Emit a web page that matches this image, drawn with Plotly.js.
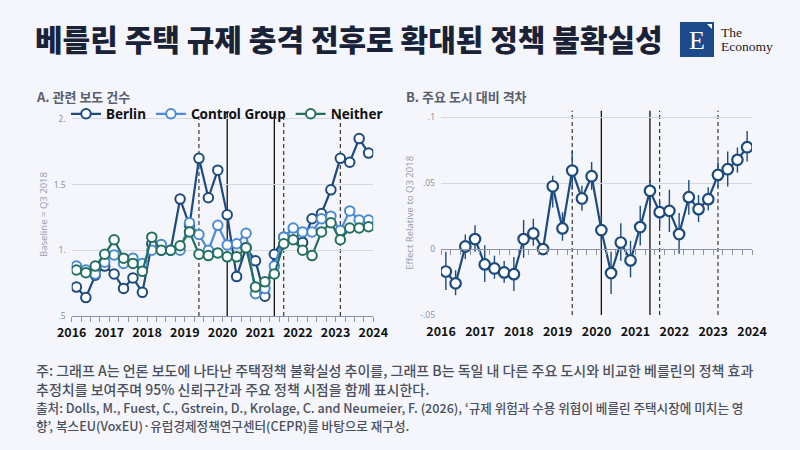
<!DOCTYPE html>
<html>
<head>
<meta charset="utf-8">
<script src="https://cdn.plot.ly/plotly-3.0.1.min.js"></script>
<style>
  html, body { margin: 0; padding: 0; background: #f5f6fb; }
  #chart { width: 800px; height: 450px; }
</style>
</head>
<body>
<div id="chart"></div>
<script>
// ---------- DATA ----------
const quarterLabels = [];
for (let y = 2016; y <= 2023; y++) { for (let q = 1; q <= 4; q++) quarterLabels.push(y + 'Q' + q); }

// Panel A: news coverage index (baseline = Q3 2018)
const berlin  = [0.72, 0.64, 0.81, 0.88, 0.82, 0.71, 0.79, 0.68, 1.05, 1.00, 1.00, 1.39, 1.19, 1.70, 1.40, 1.61,
                 1.27, 0.80, 1.02, 0.92, 0.65, 0.97, 1.10, 1.12, 1.06, 1.24, 1.28, 1.46, 1.70, 1.67, 1.85, 1.74];
const control = [0.88, 0.85, 0.82, 0.91, 0.965, 0.90, 0.94, 0.90, 1.00, 1.045, 1.00, 1.00, 1.21, 1.12, 1.00, 1.19,
                 1.04, 1.05, 1.13, 0.67, 0.71, 0.88, 1.10, 1.17, 1.14, 1.14, 1.24, 1.26, 1.15, 1.30, 1.23, 1.23];
const neither = [0.85, 0.83, 0.88, 0.97, 1.08, 0.94, 0.90, 0.84, 1.10, 1.00, 1.00, 1.035, 1.14, 0.97, 0.96, 0.98,
                 0.95, 0.95, 1.02, 0.72, 0.76, 0.82, 1.05, 1.08, 1.00, 0.96, 1.14, 1.21, 1.08, 1.17, 1.17, 1.18];

// Panel B: effect relative to Q3 2018 with 95% CI
const effect  = [-0.017, -0.026, 0.002, 0.0076, -0.0116, -0.0147, -0.0177, -0.019, 0.0076, 0.0119, 0, 0.0477, 0.0157, 0.0596, 0.0384, 0.0553,
                 0.0144, -0.0182, 0.005, -0.0086, 0.0167, 0.0442, 0.028, 0.029, 0.0114, 0.0394, 0.0303, 0.0379, 0.0563, 0.0606, 0.0677, 0.0773];
const ciUpper = [-0.002, -0.016, 0.011, 0.018, 0.003, -0.005, -0.009, -0.006, 0.022, 0.023, 0, 0.0556, 0.028, 0.0745, 0.048, 0.066,
                 0.025, -0.002, 0.0197, 0.0063, 0.0328, 0.0525, 0.0364, 0.045, 0.0273, 0.0525, 0.041, 0.047, 0.0664, 0.074, 0.077, 0.0896];
const ciLower = [-0.031, -0.035, -0.0076, -0.002, -0.025, -0.0225, -0.0255, -0.0318, -0.0066, 0.0025, 0, 0.0316, 0.0063, 0.045, 0.029, 0.045,
                 0.0045, -0.034, -0.0088, -0.0215, 0.0028, 0.0323, 0.0164, 0.0129, -0.0035, 0.026, 0.0205, 0.0293, 0.047, 0.0475, 0.058, 0.0664];

// Policy event quarters and their kind
const eventQuarters = ['2019Q2', '2020Q1', '2021Q2', '2021Q3', '2023Q1'];
const eventKinds    = ['announce', 'enact', 'enact', 'announce', 'announce'];

const yearTicks = [2016, 2017, 2018, 2019, 2020, 2021, 2022, 2023, 2024];
const leftTickVals = [0.5, 1, 1.5, 2];
const leftTickText = ['.5', '1.', '1.5', '2.'];
const rightTickVals = [-0.05, 0, 0.05, 0.1];
const rightTickText = ['-.05', '0', '.05', '.1'];

// ---------- HELPERS ----------
function qToX(label) {
  const y = parseInt(label.slice(0, 4), 10);
  const q = parseInt(label.slice(5), 10);
  return y + (q - 0.5) / 4;
}
const xq = quarterLabels.map(qToX);

const C_BERLIN = '#1d4b7e', C_CONTROL = '#4b8ad4', C_NEITHER = '#23705f';
const BG = '#f5f6fb';
const KR = '"Noto Sans CJK KR", "Noto Sans", sans-serif';
const SANS = '"Noto Sans", "Open Sans", sans-serif';

function lineTrace(name, ys, color, xa, ya, showleg) {
  return {
    type: 'scatter', mode: 'lines+markers', name: name, x: xq, y: ys,
    xaxis: xa, yaxis: ya, showlegend: showleg,
    line: { color: color, width: 2.2 },
    marker: { symbol: 'circle', size: 9.5, color: '#ffffff', line: { color: color, width: 2 } },
    hoverinfo: 'skip'
  };
}

const traces = [
  lineTrace('Berlin', berlin, C_BERLIN, 'x', 'y', true),
  lineTrace('Control Group', control, C_CONTROL, 'x', 'y', true),
  lineTrace('Neither', neither, C_NEITHER, 'x', 'y', true),
  Object.assign(lineTrace('Effect', effect, C_BERLIN, 'x2', 'y2', false), {
    marker: { symbol: 'circle', size: 10.5, color: '#ffffff', line: { color: C_BERLIN, width: 2.2 } },
    error_y: {
      type: 'data', symmetric: false,
      array: ciUpper.map((u, i) => u - effect[i]),
      arrayminus: ciLower.map((l, i) => effect[i] - l),
      color: C_BERLIN, thickness: 1.4, width: 0
    }
  }),
  // carrier for the zero-line axis of panel B
  { type: 'scatter', mode: 'markers', x: [], y: [], xaxis: 'x3', yaxis: 'y2', showlegend: false, hoverinfo: 'skip' }
];

// ---------- SHAPES ----------
const shapes = [];
eventQuarters.forEach((q, i) => {
  const enact = eventKinds[i] === 'enact';
  [['x', 'y domain'], ['x2', 'y2 domain']].forEach(([xr, yr]) => {
    shapes.push({ type: 'line', xref: xr, yref: yr, x0: qToX(q), x1: qToX(q), y0: 0, y1: 1,
      line: { color: '#111111', width: enact ? 1.3 : 1, dash: enact ? 'solid' : '4px,3px' }, layer: 'below' });
  });
});
// logo box
shapes.push({ type: 'rect', xref: 'paper', yref: 'paper', x0: 680/800, x1: 714/800, y0: 1 - 57/450, y1: 1 - 22/450,
  fillcolor: '#1d4a8a', line: { width: 0 }, layer: 'above' });
shapes.push({ type: 'path', xref: 'paper', yref: 'paper',
  path: `M ${707/800} ${1-24/450} L ${712/800} ${1-24/450} L ${712/800} ${1-29/450} Z`,
  fillcolor: '#ffffff', line: { width: 0 }, layer: 'above' });

// ---------- ANNOTATIONS ----------
function ann(text, x, y, size, color, weight, opts) {
  return Object.assign({ text: text, xref: 'paper', yref: 'paper', x: x / 800, y: 1 - y / 450,
    xanchor: 'left', yanchor: 'middle', showarrow: false,
    font: { family: KR, size: size, color: color, weight: weight } }, opts || {});
}
const SERIF = '"Liberation Serif", "DejaVu Serif", serif';
const annotations = [
  ann('베를린 주택 규제 충격 전후로 확대된 정책 불확실성', 33, 38, 30, '#1a2238', 900),
  ann('A. 관련 보도 건수', 34, 97, 13, '#5a5f6e', 700),
  ann('B. 주요 도시 대비 격차', 404, 97, 13, '#5a5f6e', 700),
  ann('주: 그래프 A는 언론 보도에 나타난 주택정책 불확실성 추이를, 그래프 B는 독일 내 다른 주요 도시와 비교한 베를린의 정책 효과', 34, 370, 14, '#4a4f5c', 500),
  ann('추정치를 보여주며 95% 신뢰구간과 주요 정책 시점을 함께 표시한다.', 34, 389, 14, '#4a4f5c', 500),
  ann('출처: Dolls, M., Fuest, C., Gstrein, D., Krolage, C. and Neumeier, F. (2026), ‘규제 위험과 수용 위협이 베를린 주택시장에 미치는 영', 34, 407.5, 12.6, '#4a4f5c', 500),
  ann('향’, 복스EU(VoxEU)·유럽경제정책연구센터(CEPR)를 바탕으로 재구성.', 34, 425, 12.6, '#4a4f5c', 500),
  ann('E', 697, 40, 26, '#ffffff', 400, { xanchor: 'center', font: { family: SERIF, size: 26, color: '#ffffff' } }),
  ann('The', 719, 32, 13, '#1a1a1a', 400, { font: { family: SERIF, size: 13.5, color: '#1a1a1a' } }),
  ann('Economy', 719, 46, 13, '#1a1a1a', 400, { font: { family: SERIF, size: 13.5, color: '#1a1a1a' } })
];

// ---------- AXES ----------
const AX = '#8a93a8';
const yearFont = { family: KR, size: 12.5, color: '#111111', weight: 700 };
function xAxis(domain, anchor, showline) {
  return {
    domain: domain, anchor: anchor, range: [2016, 2024], tickvals: yearTicks, ticktext: yearTicks.map(String),
    showline: showline, linecolor: AX, linewidth: 1,
    ticks: 'outside', ticklen: 5, tickcolor: showline ? AX : 'rgba(0,0,0,0)', tickwidth: 1,
    minor: showline ? { dtick: 0.25, tick0: 2016, ticks: 'outside', ticklen: 5, tickcolor: AX, tickwidth: 1, showgrid: false } : {},
    showgrid: false, zeroline: false, tickfont: yearFont, fixedrange: true
  };
}
function yAxis(domain, anchor, range, tv, tt, title) {
  return {
    domain: domain, anchor: anchor, range: range, tickmode: 'array', tickvals: tv, ticktext: tt,
    showgrid: true, gridcolor: '#d4d8e4', gridwidth: 1, zeroline: false, showline: false, ticks: '',
    ticklabelstandoff: 5,
    tickfont: { family: SANS, size: 8.5, color: '#8a90a2' },
    title: { text: title, font: { family: SANS, size: 9.5, color: '#9aa0b2' }, standoff: 4 },
    fixedrange: true
  };
}

const layout = {
  width: 800, height: 450,
  margin: { l: 0, r: 0, t: 0, b: 0 },
  paper_bgcolor: BG, plot_bgcolor: BG,
  showlegend: true,
  legend: {
    orientation: 'h', x: 66 / 800, y: 1 - 114 / 450, xanchor: 'left', yanchor: 'middle',
    bgcolor: 'rgba(0,0,0,0)', font: { family: SANS, size: 13.5, color: '#111111', weight: 700 },
    itemwidth: 30, tracegroupgap: 0
  },
  xaxis: xAxis([71.7 / 800, 373.3 / 800], 'y', true),
  yaxis: yAxis([1 - 316 / 450, 1 - 113 / 450], 'x', [0.5, 2.045], leftTickVals, leftTickText, 'Baseline = Q3 2018'),
  xaxis2: xAxis([441 / 800, 752 / 800], 'y2', false),
  yaxis2: yAxis([1 - 315 / 450, 1 - 110.7 / 450], 'x2', [-0.05, 0.105], rightTickVals, rightTickText, 'Effect Relative to Q3 2018'),
  xaxis3: Object.assign(xAxis([441 / 800, 752 / 800], 'free', true), {
    overlaying: 'x2', anchor: 'free', position: (1 - 315 / 450) + (0.05 / 0.155) * ((315 - 110.7) / 450),
    showticklabels: false
  }),
  shapes: shapes,
  annotations: annotations
};

Plotly.newPlot('chart', traces, layout, { staticPlot: true, displayModeBar: false });
</script>
</body>
</html>
